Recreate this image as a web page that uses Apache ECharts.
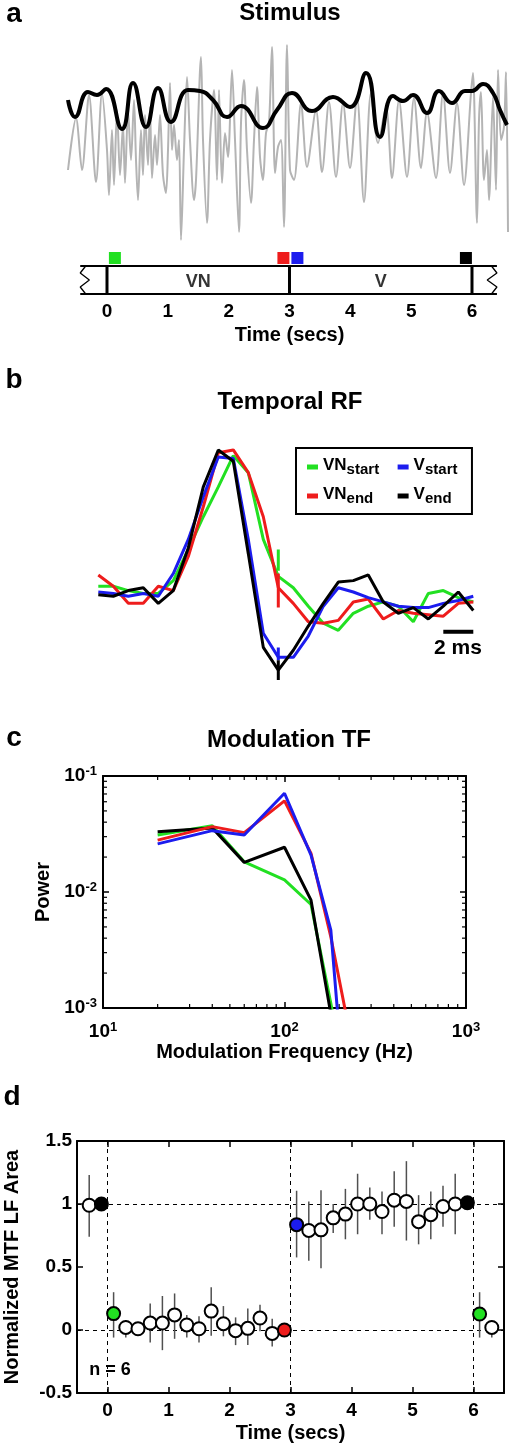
<!DOCTYPE html>
<html><head><meta charset="utf-8">
<script src="https://cdn.jsdelivr.net/npm/echarts@6/dist/echarts.min.js"></script>
<style>html,body{margin:0;padding:0;background:#fff}#c{width:513px;height:1446px}</style>
</head><body><div id="c"></div>
<script>
// ---------- Panel a: stimulus (arbitrary time / amplitude units) ----------
const stimT = [0,8,14,21,28,34,39,41,44,46,49,52,55,57,60,63,66,68,70,73,75,77,80,82,84,87,89,92,95,98,100,102,104,106,109,111,113,116,119,122,126,128,133,135,139,142,146,149,151,154,157,160,164,167,171,173,176,179,183,186,189,192,195,198,201,204,207,210,213,216,219,222,226,233,239,248,254,261,268,275,282,289,296,303,310,318,324,331,339,346,353,359,368,375,382,389,396,403,405,409,411,413,416,419,421,425,428,430,433,436,438,440];
const stimA = [-20,32,-20,55,-32,57,0,-45,20,-35,40,-25,25,-33,40,-10,50,-10,-50,20,-25,35,-15,43,-28,15,-15,35,-25,-43,0,67,0,25,-10,10,-90,0,73,10,-50,-30,93,10,-73,10,60,-30,60,-33,17,-7,80,10,-82,27,70,0,-53,10,63,-7,-30,17,27,103,-23,3,10,-77,105,-20,-30,47,-17,40,-22,48,-27,47,-18,53,-52,57,7,43,-28,50,-27,52,-18,38,-28,57,-23,47,-35,57,77,-73,30,58,-30,0,-50,53,-40,80,10,23,78,-82];
const envT = [0,7,20,29,38,54,65,78,90,103,120,132,145,159,173,195,209,224,244,265,282,298,312,325,335,345,359,371,384,397,404,415,425,432,439];
const envA = [50,33,58,55,61,21,67,23,62,28,60,59,50,33,44,22,40,57,39,53,43,77,13,54,49,55,37,59,47,59,59,66,57,40,25];

// ---------- Panel a: timeline (secs) ----------
const phaseBounds = [0,3,6];
const phaseNames = ['VN','V'];
const phaseMid = [1.5,4.5];
const epochNames = ['VN start','VN end','V start','V end'];
const epochTimes = [0.13,2.9,3.13,5.9];
const tlExtent = [-0.44,6.41];
const tlBoxTop = 0.667;
const zigLeftT = [-0.35,-0.44,-0.29,-0.44,-0.35];
const zigRightT = [6.32,6.41,6.25,6.41,6.32];
const zigV = [0.667,0.5,0.333,0.167,0];

// ---------- Panel b: temporal RF (ms, normalized) ----------
const rfT = [0,1,2,3,4,5,6,7,8,9,10,11,12,13,14,15,16,17,18,19,20,21,22,23,24,25];
const rfVNstart = [0.04,0.04,0.01,-0.01,-0.01,0.08,0.30,0.53,0.74,0.96,0.84,0.37,0.11,0.03,-0.10,-0.22,-0.27,-0.15,-0.10,-0.07,-0.10,-0.21,-0.01,0.01,-0.04,-0.07];
const rfVNend = [0.12,0.04,-0.08,-0.08,0.04,0.01,0.25,0.60,0.98,1.00,0.84,0.53,0.03,-0.08,-0.21,-0.22,-0.20,-0.07,-0.05,-0.19,-0.13,-0.15,-0.16,-0.17,-0.08,-0.07];
const rfVstart = [0.00,-0.01,-0.03,-0.01,-0.03,0.13,0.37,0.67,0.95,0.94,0.37,-0.29,-0.46,-0.46,-0.31,-0.10,0.03,0.00,-0.04,-0.07,-0.10,-0.11,-0.11,-0.08,-0.06,-0.03];
const rfVend = [-0.02,-0.03,0.01,0.03,-0.08,0.01,0.31,0.74,1.00,0.92,0.27,-0.39,-0.55,-0.41,-0.24,-0.08,0.07,0.08,0.12,-0.07,-0.15,-0.11,-0.19,-0.10,0.00,-0.13];
const rfMarkT = 12;
const rfMarkVNstart = [0.15,0.30];
const rfMarkVNend = [-0.11,0.13];
const rfMarkVstart = [-0.48,-0.39];
const rfMarkVend = [-0.62,-0.48];
const scaleBarT = [23,25];
const scaleBarV = -0.28;

// ---------- Panel c: modulation TF ----------
const mtfFreq = [20,40,60,100,140,180,220];
const mtfVNstart = [0.031,0.0373,0.0182,0.0127,0.0078,0.0011,0.0002];
const mtfVNend = [0.028,0.0366,0.0325,0.061,0.0215,0.0041,0.00083];
const mtfVstart = [0.026,0.0338,0.031,0.071,0.0208,0.0047,0.0001];
const mtfVend = [0.033,0.0357,0.018,0.0243,0.0085,0.00089,0.0002];
const minorFreq = [20,30,40,50,60,70,80,90,200,300,400,500,600,700,800,900];
const minorPow = [0.002,0.003,0.004,0.005,0.006,0.007,0.008,0.009,0.02,0.03,0.04,0.05,0.06,0.07,0.08,0.09];

// ---------- Panel d: normalized MTF LF area ----------
const dT = [-0.3,-0.1,0.1,0.3,0.5,0.7,0.9,1.1,1.3,1.5,1.7,1.9,2.1,2.3,2.5,2.7,2.9,3.1,3.3,3.5,3.7,3.9,4.1,4.3,4.5,4.7,4.9,5.1,5.3,5.5,5.7,5.9,6.1,6.3];
const dY = [0.99,1.00,0.13,0.02,0.01,0.055,0.055,0.12,0.04,0.01,0.15,0.05,-0.005,0.013,0.095,-0.027,0.00,0.836,0.79,0.795,0.89,0.92,1.00,1.00,0.94,1.03,1.02,0.86,0.915,0.98,1.00,1.01,0.127,0.02];
const dLo = [0.74,0.97,-0.06,-0.06,-0.04,-0.10,-0.16,-0.07,-0.06,-0.10,-0.045,-0.05,-0.12,-0.12,-0.01,-0.13,-0.03,0.576,0.55,0.49,0.77,0.72,0.76,0.875,0.76,0.82,0.71,0.68,0.72,0.82,0.76,0.98,-0.06,-0.06];
const dHi = [1.23,1.03,0.30,0.08,0.05,0.21,0.27,0.29,0.12,0.11,0.34,0.19,0.10,0.17,0.20,0.09,0.03,1.105,1.02,1.11,1.00,1.12,1.24,1.13,1.10,1.26,1.34,1.07,1.10,1.145,1.24,1.04,0.30,0.07];
const dFill = ['w','k','g','w','w','w','w','w','w','w','w','w','w','w','w','w','r','b','w','w','w','w','w','w','w','w','w','w','w','w','w','k','g','w'];
const refX = [0,3,6];
const refY = [0,1];

// ---------- styling ----------
const FONT = 'Arial, "Liberation Sans", Helvetica, sans-serif';
const COL = {g:'#22e022', r:'#ee1c1c', b:'#1c1cee', k:'#000000', w:'#ffffff'};
const curveCol = {'VN start':COL.g,'VN end':COL.r,'V start':COL.b,'V end':COL.k};

const chart = echarts.init(document.getElementById('c'), null, {renderer:'canvas'});

function boxAxis(extra){
  return Object.assign({
    axisLine:{show:true,onZero:false,lineStyle:{color:'#000',width:2}},
    axisTick:{show:true,inside:true,length:6,lineStyle:{color:'#000',width:1.5}},
    splitLine:{show:false},
    axisLabel:{show:false}
  }, extra);
}
const bold = (s)=>({fontSize:s,fontWeight:'bold',color:'#000',fontFamily:FONT});
const logLabel = v => '{b|10}{s|' + Math.round(Math.log10(v)) + '}';
const logRich = {b:{fontSize:19,fontWeight:'bold',color:'#000',fontFamily:FONT,lineHeight:22},
                 s:{fontSize:13,fontWeight:'bold',color:'#000',fontFamily:FONT,lineHeight:13,verticalAlign:'top'}};

const xAxis = [
  {gridIndex:0,type:'value',min:0,max:440,show:false},
  {gridIndex:1,type:'value',min:-0.5,max:6.5,splitNumber:7,axisLine:{show:false},axisTick:{show:false},splitLine:{show:false},
   axisLabel:Object.assign({margin:8,showMinLabel:false,showMaxLabel:false},bold(19)),name:'Time (secs)',nameLocation:'middle',nameGap:31,nameTextStyle:bold(20)},
  {gridIndex:2,type:'value',min:0,max:25,show:false},
  boxAxis({gridIndex:3,type:'log',logBase:10,min:10,max:1000,position:'bottom',
   axisLabel:{show:true,margin:13,formatter:logLabel,rich:logRich},
   name:'Modulation Frequency (Hz)',nameLocation:'middle',nameGap:34,nameTextStyle:bold(20)}),
  boxAxis({gridIndex:3,type:'log',logBase:10,min:10,max:1000,position:'top'}),
  boxAxis({gridIndex:4,type:'value',min:-0.5,max:6.5,splitNumber:7,position:'bottom',
   axisLabel:Object.assign({show:true,margin:8,showMinLabel:false,showMaxLabel:false},bold(19)),
   name:'Time (secs)',nameLocation:'middle',nameGap:30,nameTextStyle:bold(20)}),
  boxAxis({gridIndex:4,type:'value',min:-0.5,max:6.5,splitNumber:7,position:'top'})
];
const yAxis = [
  {gridIndex:0,type:'value',min:-90,max:110,show:false},
  {gridIndex:1,type:'value',min:0,max:1,show:false},
  {gridIndex:2,type:'value',min:-0.69,max:1.07,show:false},
  boxAxis({gridIndex:3,type:'log',logBase:10,min:0.001,max:0.1,position:'left',
   axisLabel:{show:true,margin:6,formatter:logLabel,rich:logRich},
   name:'Power',nameLocation:'middle',nameGap:49,nameTextStyle:bold(20)}),
  boxAxis({gridIndex:3,type:'log',logBase:10,min:0.001,max:0.1,position:'right'}),
  boxAxis({gridIndex:4,type:'value',min:-0.5,max:1.5,interval:0.5,position:'left',
   axisLabel:Object.assign({show:true,margin:5},bold(19)),
   name:'Normalized MTF LF Area',nameLocation:'middle',nameGap:55,nameTextStyle:bold(20)}),
  boxAxis({gridIndex:4,type:'value',min:-0.5,max:1.5,interval:0.5,position:'right'})
];
const G = (o)=>Object.assign({containLabel:false,outerBoundsMode:'none'},o);
const grid = [
  G({left:68,top:40,width:440,height:200}),
  G({left:76.58,top:252,width:425.83,height:42}),
  G({left:98.3,top:440,width:375,height:250}),
  G({left:103,top:776,width:363,height:232}),
  G({left:77,top:1141,width:427,height:252})
];

const series = [];
// panel a stimulus
series.push({type:'line',xAxisIndex:0,yAxisIndex:0,data:stimT.map((t,i)=>[t,stimA[i]]),symbol:'none',smooth:0.3,
  lineStyle:{color:'#b4b4b4',width:2},silent:true,clip:false});
series.push({type:'line',xAxisIndex:0,yAxisIndex:0,data:envT.map((t,i)=>[t,envA[i]]),symbol:'none',smooth:0.5,
  lineStyle:{color:'#000',width:4},silent:true,clip:false});
// timeline
function tlSeg(pts,w){ series.push({type:'line',xAxisIndex:1,yAxisIndex:1,data:pts,symbol:'none',lineStyle:{color:'#000',width:w},silent:true,clip:false}); }
tlSeg([[tlExtent[0],tlBoxTop],[tlExtent[1],tlBoxTop]],2);
tlSeg([[tlExtent[0],0],[tlExtent[1],0]],2);
phaseBounds.forEach(b=>tlSeg([[b,0],[b,tlBoxTop]],3));
tlSeg(zigLeftT.map((t,i)=>[t,zigV[i]]),1.3);
tlSeg(zigRightT.map((t,i)=>[t,zigV[i]]),1.3);
series.push({type:'scatter',xAxisIndex:1,yAxisIndex:1,symbol:'rect',symbolSize:12,silent:true,clip:false,
  itemStyle:{opacity:1},
  data:epochTimes.map((t,i)=>({value:[t,0.857],itemStyle:{color:curveCol[epochNames[i]],opacity:1}}))});
series.push({type:'scatter',xAxisIndex:1,yAxisIndex:1,symbol:'circle',symbolSize:1,silent:true,itemStyle:{color:'rgba(0,0,0,0)'},
  data:phaseNames.map((n,i)=>({value:[phaseMid[i],0.28],name:n})),
  label:Object.assign({show:true,position:'inside',formatter:p=>p.name},bold(18))});

// panel b
const rfSets = [['VN start',rfVNstart,rfMarkVNstart],['VN end',rfVNend,rfMarkVNend],['V start',rfVstart,rfMarkVstart],['V end',rfVend,rfMarkVend]];
rfSets.forEach(([n,arr,mk])=>{
  series.push({type:'line',name:n,xAxisIndex:2,yAxisIndex:2,data:rfT.map((t,i)=>[t,arr[i]]),symbol:'none',
    lineStyle:{color:curveCol[n],width:3},itemStyle:{color:curveCol[n]},silent:true,clip:false});
  series.push({type:'line',name:n+' mark',xAxisIndex:2,yAxisIndex:2,data:[[rfMarkT,mk[0]],[rfMarkT,mk[1]]],symbol:'none',
    lineStyle:{color:curveCol[n],width:3},silent:true,clip:false});
});
series.push({type:'line',xAxisIndex:2,yAxisIndex:2,data:scaleBarT.map(t=>[t,scaleBarV]),symbol:'none',lineStyle:{color:'#000',width:4},silent:true,clip:false});

// panel c
series.push({type:'custom',xAxisIndex:3,yAxisIndex:3,silent:true,clip:false,
  data:minorFreq.map(f=>[f,0.01,0]).concat(minorPow.map(p=>[100,p,1])),
  renderItem:(params,api)=>{
    const kind=api.value(2), L=4, st={stroke:'#000',lineWidth:1.2};
    if(kind===0){ const f=api.value(0); const b=api.coord([f,0.001]), t=api.coord([f,0.1]);
      return {type:'group',children:[{type:'line',shape:{x1:b[0],y1:b[1],x2:b[0],y2:b[1]-L},style:st},{type:'line',shape:{x1:t[0],y1:t[1],x2:t[0],y2:t[1]+L},style:st}]}; }
    const p=api.value(1); const l=api.coord([10,p]), r=api.coord([1000,p]);
    return {type:'group',children:[{type:'line',shape:{x1:l[0],y1:l[1],x2:l[0]+L,y2:l[1]},style:st},{type:'line',shape:{x1:r[0],y1:r[1],x2:r[0]-L,y2:r[1]},style:st}]};
  }});
[['VN start',mtfVNstart],['V end',mtfVend],['VN end',mtfVNend],['V start',mtfVstart]].forEach(([n,arr])=>{
  series.push({type:'line',name:n,xAxisIndex:3,yAxisIndex:3,data:mtfFreq.map((f,i)=>[f,arr[i]]),symbol:'none',
    lineStyle:{color:curveCol[n],width:3},itemStyle:{color:curveCol[n]},silent:true,clip:true});
});

// panel d
series.push({type:'line',xAxisIndex:5,yAxisIndex:5,data:[],silent:true,z:0,zlevel:0,
  markLine:{silent:true,symbol:'none',z:0,label:{show:false},lineStyle:{color:'#000',width:1,type:[4,4]},
    data:refY.map(v=>({yAxis:v})).concat(refX.map(v=>({xAxis:v})))}});
series.push({type:'custom',xAxisIndex:5,yAxisIndex:5,silent:true,z:3,
  data:dT.map((t,i)=>[t,dLo[i],dHi[i]]),
  renderItem:(params,api)=>{ const a=api.coord([api.value(0),api.value(1)]), b=api.coord([api.value(0),api.value(2)]);
    return {type:'line',shape:{x1:a[0],y1:a[1],x2:b[0],y2:b[1]},style:{stroke:'#505050',lineWidth:1.5}}; }});
series.push({type:'scatter',xAxisIndex:5,yAxisIndex:5,symbol:'circle',symbolSize:13,silent:true,z:10,
  itemStyle:{borderColor:'#000',borderWidth:2,opacity:1},
  data:dT.map((t,i)=>({value:[t,dY[i]],itemStyle:{color:COL[dFill[i]],opacity:1}}))});

const txt = (text,x,y,size)=>({type:'text',x:x,y:y,silent:true,style:{text:text,fill:'#000',font:'bold '+size+'px '+FONT,textAlign:'center',textVerticalAlign:'middle'}});

chart.setOption({
  animation:false,
  backgroundColor:'#fff',
  textStyle:{fontFamily:FONT},
  grid:grid, xAxis:xAxis, yAxis:yAxis, series:series,
  legend:{
    data:['VN start','V start','VN end','V end'],
    left:296, top:448, width:180, orient:'horizontal',
    icon:'rect', itemWidth:11, itemHeight:5, itemGap:4,
    padding:[4,0,8,11], borderColor:'#000', borderWidth:2, backgroundColor:'#fff',
    selectedMode:false,
    formatter:n=>{const p=n.split(' ');return '{m|'+p[0]+'}{s|'+p[1]+'}';},
    textStyle:{color:'#000',fontWeight:'bold',fontFamily:FONT,
      rich:{m:{fontSize:17,fontWeight:'bold',lineHeight:20,verticalAlign:'top',color:'#000',fontFamily:FONT},
            s:{fontSize:15,fontWeight:'bold',lineHeight:15,padding:[10,0,0,0],verticalAlign:'bottom',width:47,color:'#000',fontFamily:FONT}}}
  },
  graphic:[
    txt('a',14,14,28), txt('Stimulus',290,13,24),
    txt('b',14,380,28), txt('Temporal RF',290,402,24),
    txt('2 ms',458,648,21),
    txt('c',14,738,28), txt('Modulation TF',289,740,24),
    txt('d',12,1097,28), txt('n = 6',110,1370,18)
  ]
});
</script></body></html>
